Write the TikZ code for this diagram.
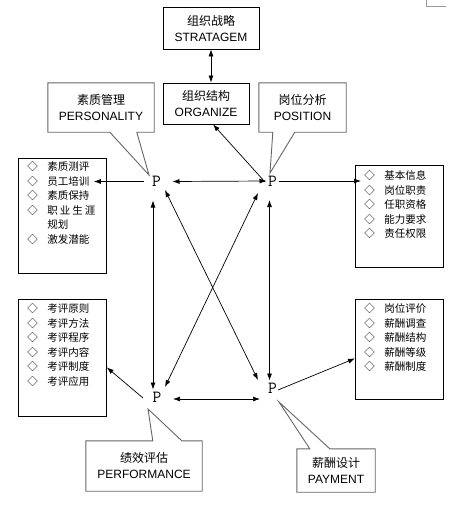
\documentclass[tikz,border=0pt]{standalone}
\usepackage{fontspec}
\setmainfont{Liberation Sans}
\newfontfamily\cjk{Noto Sans CJK SC}
\usetikzlibrary{arrows.meta,calc}

\tikzset{
  box/.style={draw, line width=0.8pt, inner sep=0pt, align=center, font=\fontsize{12}{16}\selectfont},
  callout/.style={inner sep=0pt, align=center, font=\fontsize{12}{16}\selectfont},
  callline/.style={draw=black!60, line width=0.9pt, line join=miter},
  listbox/.style={draw, line width=0.8pt, inner sep=0pt, anchor=north west, font=\cjk\fontsize{10.5}{14.6}\selectfont},
  pnode/.style={inner sep=0pt, font=\ttfamily\fontsize{17}{17}\selectfont},
  arr/.style={-{Latex[length=7pt,width=5pt]}, line width=0.7pt},
  biarr/.style={{Latex[length=7pt,width=5pt]}-{Latex[length=7pt,width=5pt]}, line width=0.7pt}
}

\begin{document}
\begin{tikzpicture}[x=1pt,y=1pt,yscale=-1,xscale=1]
\fill[white] (0,0) rectangle (456,511);
\useasboundingbox (0,0) rectangle (456,511);

% top boxes
\node[box, minimum width=96pt, minimum height=42pt] (strat) at (211,28) {{\cjk 组织战略}\\STRATAGEM};
\node[box, minimum width=86pt, minimum height=41pt] (org) at (206,103.5) {{\cjk 组织结构}\\ORGANIZE};

% the four P
\node[pnode] (ppers) at (156.5,181.5) {P};
\node[pnode] (pposi) at (272.5,181) {P};
\node[pnode] (pperf) at (157,397.5) {P};
\node[pnode] (ppay) at (272.5,388.5) {P};

% callouts
\node[callout, minimum width=106pt, minimum height=49pt] (pers) at (101,107.5) {{\cjk 素质管理}\\PERSONALITY};
\draw[callline] (pers.north west) -- (pers.north east) -- (pers.south east) -- ($(pers.south west)+(89,0)$) -- ($(ppers)+(-7.5,-6.5)$) -- ($(pers.south west)+(62,0)$) -- (pers.south west) -- cycle;

\node[callout, minimum width=87pt, minimum height=49pt] (posi) at (302.5,107.5) {{\cjk 岗位分析}\\POSITION};
\draw[callline] (posi.north west) -- (posi.north east) -- (posi.south east) -- ($(posi.south west)+(36,0)$) -- ($(pposi)+(-2.5,-8)$) -- ($(posi.south west)+(14,0)$) -- (posi.south west) -- cycle;

\node[callout, minimum width=116pt, minimum height=50pt] (perf) at (144,466) {{\cjk 绩效评估}\\PERFORMANCE};
\draw[callline] (perf.north west) -- ($(perf.north west)+(67,0)$) -- ($(pperf)+(-9,11.5)$) -- ($(perf.north west)+(96,0)$) -- (perf.north east) -- (perf.south east) -- (perf.south west) -- cycle;

\node[callout, minimum width=78pt, minimum height=43pt] (pay) at (336,470.5) {{\cjk 薪酬设计}\\PAYMENT};
\draw[callline] (pay.north west) -- ($(pay.north west)+(13,0)$) -- ($(ppay)+(6.5,13.5)$) -- ($(pay.north west)+(33,0)$) -- (pay.north east) -- (pay.south east) -- (pay.south west) -- cycle;

% lists
\node[listbox] (persl) at (18,158) {\parbox[c][115pt][t]{88pt}{\vspace*{3pt}\raggedright\leftskip=9pt
◇\hspace{9.5pt}素质测评\\
◇\hspace{9.5pt}员工培训\\
◇\hspace{9.5pt}素质保持\\
◇\hspace{9.5pt}职\hspace{2pt}业\hspace{2pt}生\hspace{2pt}涯\\
\hspace*{20pt}规划\\
◇\hspace{9.5pt}激发潜能}};
\node[listbox] (posil) at (355,165) {\parbox[c][102pt][t]{88pt}{\vspace*{5pt}\raggedright\leftskip=9pt
◇\hspace{9.5pt}基本信息\\
◇\hspace{9.5pt}岗位职责\\
◇\hspace{9.5pt}任职资格\\
◇\hspace{9.5pt}能力要求\\
◇\hspace{9.5pt}责任权限}};
\node[listbox] (perfl) at (18,299) {\parbox[c][117pt][t]{88pt}{\vspace*{4pt}\raggedright\leftskip=9pt
◇\hspace{9.5pt}考评原则\\
◇\hspace{9.5pt}考评方法\\
◇\hspace{9.5pt}考评程序\\
◇\hspace{9.5pt}考评内容\\
◇\hspace{9.5pt}考评制度\\
◇\hspace{9.5pt}考评应用}};
\node[listbox] (payl) at (355,299) {\parbox[c][100pt][t]{88pt}{\vspace*{4pt}\raggedright\leftskip=9pt
◇\hspace{9.5pt}岗位评价\\
◇\hspace{9.5pt}薪酬调查\\
◇\hspace{9.5pt}薪酬结构\\
◇\hspace{9.5pt}薪酬等级\\
◇\hspace{9.5pt}薪酬制度}};

% connectors
\draw[biarr] (strat.south) -- (strat.south |- org.north);
\draw[arr] ($(pposi)+(-7.5,1)$) -- ($(org.south)+(7,0)$);
\draw[arr] ([xshift=-13pt]ppers.center) -- ([xshift=-13pt]ppers.center -| persl.east);
\draw[biarr] ([xshift=16pt]ppers.center) -- ([xshift=-6pt]pposi.center);
\draw[arr] ([xshift=6pt]pposi.center) -- ([xshift=6pt]pposi.center -| posil.west);
\draw[biarr] ($(ppers)+(-3.5,19)$) -- ($(pperf)+(-4,-8)$);
\draw[biarr] ($(pposi)+(-3,19)$) -- ($(ppay)+(-3,-8)$);
\draw[biarr] ($(ppers)+(8.5,8.5)$) -- ($(ppay)+(-14.5,-8.5)$);
\draw[biarr] ($(pperf)+(8,-10.5)$) -- ($(pposi)+(-14.5,12)$);
\draw[biarr] ($(pperf)+(16,1.5)$) -- ($(ppay)+(-12.5,10.5)$);
\draw[arr] ($(pperf)+(-14,0.5)$) -- ($(perfl.east)+(0,9.5)$);
\draw[arr] ($(ppay)+(5.5,1.5)$) -- ($(payl.west)+(0,9)$);

% corner at top right
\draw[black!40] (426,0) -- (426,6) -- (446,6);
\end{tikzpicture}
\end{document}
